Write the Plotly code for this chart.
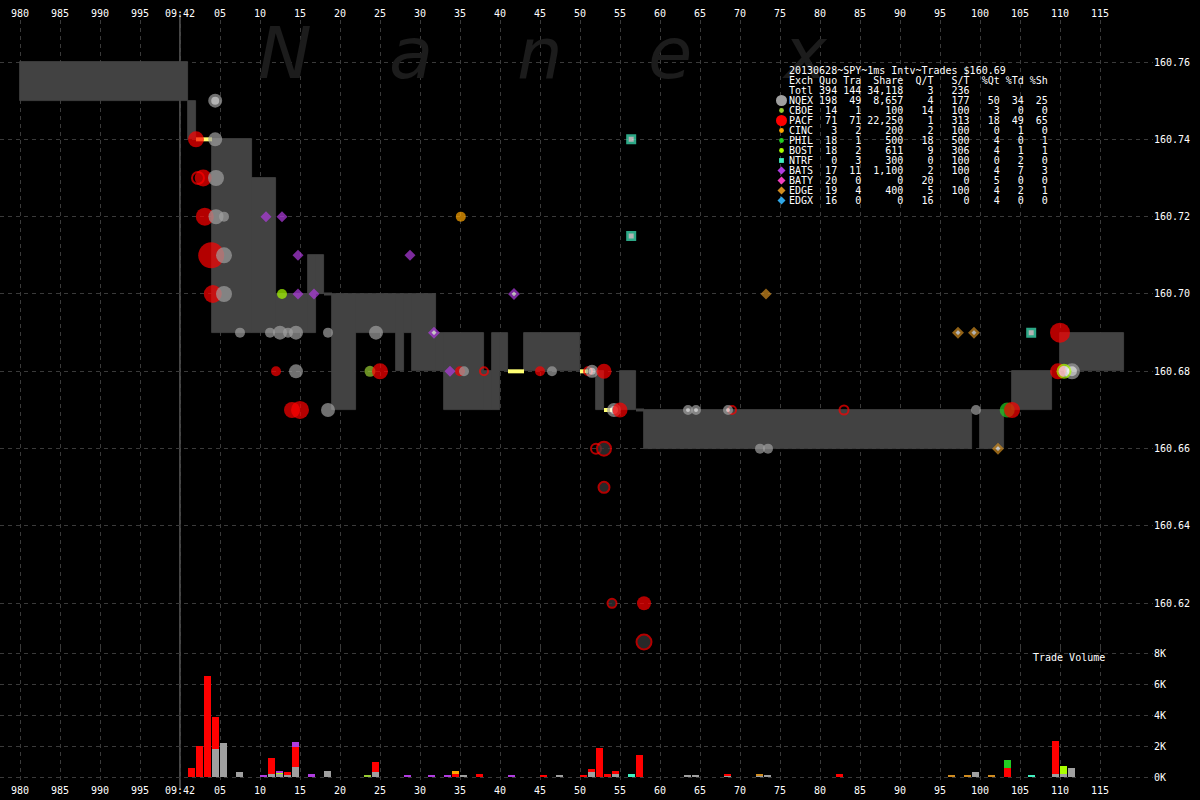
import math
import plotly.graph_objects as go

# ------------------------------------------------------------------ axis data
time_ticks = list(range(980, 1116, 5))
time_labels = ["980", "985", "990", "995", "09:42", "05", "10", "15", "20", "25",
               "30", "35", "40", "45", "50", "55", "60", "65", "70", "75", "80",
               "85", "90", "95", "100", "105", "110", "115"]
price_ticks = [160.62, 160.64, 160.66, 160.68, 160.70, 160.72, 160.74, 160.76]
price_labels = ["160.62", "160.64", "160.66", "160.68", "160.70", "160.72", "160.74", "160.76"]
vol_ticks = [0, 2000, 4000, 6000, 8000]
vol_labels = ["0K", "2K", "4K", "6K", "8K"]
open_time = 1000

# ------------------------------------------------------------------ NBBO spread
spread_start = [980, 1001, 1004, 1009, 1012, 1016, 1017, 1019, 1022, 1027, 1028, 1029,
                1032, 1033, 1038, 1039, 1040, 1043, 1052, 1055, 1058, 1100, 1104, 1110]
spread_end = [1001, 1002, 1009, 1012, 1016, 1017, 1018, 1022, 1027, 1028, 1029, 1032,
              1033, 1038, 1039, 1040, 1041, 1050, 1053, 1057, 1099, 1103, 1109, 1118]
spread_bid = [160.75, 160.74, 160.69, 160.69, 160.69, 160.69, 160.70, 160.67, 160.69, 160.68,
              160.69, 160.68, 160.68, 160.67, 160.67, 160.67, 160.68, 160.68, 160.67, 160.67,
              160.66, 160.66, 160.67, 160.68]
spread_ask = [160.76, 160.75, 160.74, 160.73, 160.70, 160.71, 160.71, 160.70, 160.70, 160.70,
              160.70, 160.70, 160.69, 160.69, 160.68, 160.69, 160.69, 160.69, 160.68, 160.68,
              160.67, 160.67, 160.68, 160.69]
locked_start = [1002, 1041, 1050, 1053]
locked_end = [1004, 1043, 1051, 1054]
locked_price = [160.74, 160.68, 160.68, 160.67]
flat_start = [1018, 1057]
flat_end = [1019, 1058]
flat_price = [160.70, 160.67]

# ------------------------------------------------------------------ trades
nqex_t = [1004.4, 1004.5, 1004.5, 1005.5, 1005.5, 1005.5, 1007.5, 1011.25, 1012.5, 1013.5,
          1014.5, 1018.5, 1024.5, 1014.5, 1018.5, 1035.5, 1046.5, 1072.5, 1073.5, 1099.5]
nqex_p = [160.74, 160.73, 160.72, 160.72, 160.71, 160.70, 160.69, 160.69, 160.69, 160.69,
          160.69, 160.69, 160.69, 160.68, 160.67, 160.68, 160.68, 160.66, 160.66, 160.67]
nqex_sh = [540, 900, 710, 100, 900, 900, 100, 100, 540, 100,
           540, 100, 540, 540, 540, 100, 100, 100, 100, 100]
nqex_out_t = [1004.4, 1051.5, 1054.25, 1063.5, 1064.5, 1068.5, 1111.5]
nqex_out_p = [160.75, 160.68, 160.67, 160.67, 160.67, 160.67, 160.68]
nqex_out_sh = [540, 400, 540, 100, 100, 100, 900]

pacf_t = [1002, 1002.9, 1003.1, 1003.9, 1004.1, 1012, 1014, 1015, 1025, 1035, 1045,
          1053, 1055, 1058, 1104, 1109.75, 1110]
pacf_p = [160.74, 160.73, 160.72, 160.71, 160.70, 160.68, 160.67, 160.67, 160.68, 160.68,
          160.68, 160.68, 160.67, 160.62, 160.67, 160.68, 160.69]
pacf_sh = [900, 1100, 1340, 4000, 1340, 100, 900, 1340, 900, 100, 100,
           710, 710, 540, 900, 900, 1880]
pacf_low_t = [1053, 1053, 1054, 1058]
pacf_low_p = [160.66, 160.65, 160.62, 160.61]
pacf_low_sh = [900, 400, 180, 1100]
pacf_ring_t = [1002.25, 1038, 1051, 1052, 1069, 1083]
pacf_ring_p = [160.73, 160.68, 160.68, 160.66, 160.67, 160.67]
pacf_ring_sh = [540, 100, 100, 280, 100, 180]

bats_t = [1010.75, 1012.75, 1014.75, 1014.75, 1016.75, 1028.75, 1033.75]
bats_p = [160.72, 160.72, 160.71, 160.70, 160.70, 160.71, 160.68]
bats_out_t = [1031.75, 1041.75]
bats_out_p = [160.69, 160.70]
edge_t = [1073.25]
edge_p = [160.70]
edge_out_t = [1097.25, 1099.25, 1102.25]
edge_out_p = [160.69, 160.69, 160.66]
ntrf_t = [1056.4, 1056.4, 1106.4]
ntrf_p = [160.74, 160.715, 160.69]
cinc_t = [1035.1]
cinc_p = [160.72]
bost_t = [1012.75]
bost_p = [160.70]
bost_out_t = [1110.5]
bost_out_p = [160.68]
bost_out_sh = [710]
cboe_t = [1023.75]
cboe_p = [160.68]
cboe_sh = [180]
phil_t = [1103.4]
phil_p = [160.67]
phil_sh = [710]

# ------------------------------------------------------------------ trade volume (shares)
vol_nqex_t = [1004, 1005, 1007, 1011, 1012, 1013, 1014, 1018, 1024, 1035, 1047, 1051, 1054,
              1063, 1064, 1068, 1072, 1073, 1099, 1109, 1110, 1111]
vol_nqex = [1800, 2200, 300, 200, 200, 100, 650, 400, 300, 100, 100, 300, 200,
            100, 100, 100, 100, 100, 300, 200, 200, 600]
vol_pacf_t = [1001, 1002, 1003, 1004, 1011, 1013, 1014, 1024, 1034, 1037, 1045, 1050, 1051,
              1052, 1053, 1054, 1057, 1068, 1082, 1103, 1109]
vol_pacf = [600, 2000, 6500, 2100, 1000, 200, 1300, 700, 200, 200, 100, 100, 200,
            1900, 200, 200, 1400, 100, 200, 600, 2100]
vol_cboe_t = [1023]
vol_cboe = [100]
vol_bost_t = [1012, 1110]
vol_bost = [100, 500]
vol_phil_t = [1103]
vol_phil = [500]
vol_cinc_t = [1034]
vol_cinc = [200]
vol_bats_t = [1010, 1012, 1014, 1016, 1028, 1031, 1033, 1041]
vol_bats = [100, 100, 300, 200, 100, 100, 100, 100]
vol_edge_t = [1072, 1096, 1098, 1101]
vol_edge = [100, 100, 100, 100]
vol_ntrf_t = [1056, 1106]
vol_ntrf = [200, 100]

# ------------------------------------------------------------------ summary table
table_title = "20130628~SPY~1ms Intv~Trades $160.69"
table_exch = ["Totl", "NQEX", "CBOE", "PACF", "CINC", "PHIL", "BOST", "NTRF", "BATS", "BATY", "EDGE", "EDGX"]
table_quotes = [394, 198, 14, 71, 3, 18, 18, 0, 17, 20, 19, 16]
table_trades = [144, 49, 1, 71, 2, 1, 2, 3, 11, 0, 4, 0]
table_shares = [34118, 8657, 100, 22250, 200, 500, 611, 300, 1100, 0, 400, 0]
table_qt = [3, 4, 14, 1, 2, 18, 9, 0, 2, 20, 5, 16]
table_st = [236, 177, 100, 313, 100, 500, 306, 100, 100, 0, 100, 0]
table_pq = [None, 50, 3, 18, 0, 4, 4, 0, 4, 5, 4, 4]
table_pt = [None, 34, 0, 49, 1, 0, 1, 2, 7, 0, 2, 0]
table_ps = [None, 25, 0, 65, 0, 1, 1, 0, 3, 0, 1, 0]

# ------------------------------------------------------------------ styles
C = {
    "NQEX": "#a0a0a0", "CBOE": "#99cc33", "PACF": "#ff0000", "CINC": "#ffa500",
    "PHIL": "#22cc22", "BOST": "#aaff00", "NTRF": "#40f0c0", "BATS": "#b03ce0",
    "BATY": "#f040c0", "EDGE": "#d08c20", "EDGX": "#30a8e8",
}
BAND = "#424242"
LOCK = "#ffff73"
GRID = "#3a3a3a"
MONO = "DejaVu Sans Mono"

W_PLOT, TOP, BOT = 1153, 20, 783
SPLIT = (BOT - 648) / (BOT - TOP)


def px(x):
    return x / W_PLOT


def py(y):
    return (BOT - y) / (BOT - TOP)


def dot(sh):
    return 7 + 3 * math.sqrt(sh / 100)


fig = go.Figure()

# spread band
fig.add_trace(go.Bar(
    x=spread_start, y=[a - b for a, b in zip(spread_ask, spread_bid)], base=spread_bid,
    width=[e - s for s, e in zip(spread_start, spread_end)], offset=0,
    marker=dict(color=BAND, line=dict(width=0.8, color=BAND)), xaxis="x", yaxis="y", hoverinfo="skip"))


def seg_xy(starts, ends, prices):
    xs, ys = [], []
    for s, e, p in zip(starts, ends, prices):
        xs += [s, e, None]
        ys += [p, p, None]
    return xs, ys


lx, ly = seg_xy(flat_start, flat_end, flat_price)
fig.add_trace(go.Scatter(x=lx, y=ly, mode="lines", line=dict(color=BAND, width=3),
                         xaxis="x", yaxis="y", hoverinfo="skip"))
lx, ly = seg_xy(locked_start, locked_end, locked_price)
fig.add_trace(go.Scatter(x=lx, y=ly, mode="lines", line=dict(color=LOCK, width=4),
                         xaxis="x", yaxis="y", hoverinfo="skip"))


def pts(t, p, sizes, symbol, fill, line_color=None, lw=0):
    fig.add_trace(go.Scatter(
        x=t, y=p, mode="markers", cliponaxis=False, xaxis="x", yaxis="y", hoverinfo="skip",
        marker=dict(symbol=symbol, size=sizes, color=fill,
                    line=dict(color=line_color or fill, width=lw))))


pts(pacf_ring_t, pacf_ring_p, [dot(s) - 2 for s in pacf_ring_sh], "circle", "rgba(0,0,0,0)", C["PACF"], 2)
pts(pacf_low_t, pacf_low_p, [dot(s) - 2 for s in pacf_low_sh], "circle", "#3a3a3a", C["PACF"], 2)
pts(phil_t, phil_p, [dot(s) for s in phil_sh], "circle", C["PHIL"])
pts(cboe_t, cboe_p, [dot(s) for s in cboe_sh], "circle", C["CBOE"])
pts(bost_t, bost_p, [dot(100)] * len(bost_t), "circle", C["BOST"])
pts(nqex_out_t, nqex_out_p, [dot(s) - 3 for s in nqex_out_sh], "circle", "#ffffff", C["NQEX"], 3)
pts(pacf_t, pacf_p, [dot(s) for s in pacf_sh], "circle", C["PACF"])
pts(nqex_t, nqex_p, [dot(s) for s in nqex_sh], "circle", C["NQEX"])
pts(bost_out_t, bost_out_p, [dot(s) - 2 for s in bost_out_sh], "circle", "#ffffff", C["BOST"], 2)
pts(cinc_t, cinc_p, [dot(100)] * len(cinc_t), "circle", C["CINC"])
pts(bats_t, bats_p, [dot(100) * 0.85] * len(bats_t), "diamond", C["BATS"])
pts(bats_out_t, bats_out_p, [dot(100) * 0.85 - 2] * len(bats_out_t), "diamond", "#ffffff", C["BATS"], 2.5)
pts(edge_t, edge_p, [dot(100) * 0.85] * len(edge_t), "diamond", C["EDGE"])
pts(edge_out_t, edge_out_p, [dot(100) * 0.85 - 2] * len(edge_out_t), "diamond", "#ffffff", C["EDGE"], 2.5)
pts(ntrf_t, ntrf_p, [dot(100) - 2.5] * len(ntrf_t), "square", "#ffffff", C["NTRF"], 2.5)

# volume bars (stacked by exchange)
stack = {}
for name, ts, vs in [("NQEX", vol_nqex_t, vol_nqex), ("PACF", vol_pacf_t, vol_pacf),
                     ("CBOE", vol_cboe_t, vol_cboe), ("BOST", vol_bost_t, vol_bost),
                     ("PHIL", vol_phil_t, vol_phil), ("CINC", vol_cinc_t, vol_cinc),
                     ("BATS", vol_bats_t, vol_bats), ("EDGE", vol_edge_t, vol_edge),
                     ("NTRF", vol_ntrf_t, vol_ntrf)]:
    bases = []
    for t, v in zip(ts, vs):
        b = stack.get(t, 0)
        bases.append(b)
        stack[t] = b + v
    fig.add_trace(go.Bar(x=ts, y=vs, base=bases, width=0.9, offset=0,
                         marker=dict(color=C[name], line=dict(width=0)),
                         xaxis="x2", yaxis="y2", hoverinfo="skip"))

tickfont = dict(family=MONO, size=10, color="#ffffff")
xcommon = dict(range=[977.5, 977.5 + W_PLOT / 8], tickvals=time_ticks, ticktext=time_labels,
               showgrid=True, gridcolor=GRID, griddash="4px,4px", gridwidth=1,
               zeroline=False, showline=False, ticks="", tickfont=tickfont, fixedrange=True)
ycommon = dict(side="right", showgrid=True, gridcolor=GRID, griddash="4px,4px", gridwidth=1,
               zeroline=False, showline=False, ticks="", tickfont=tickfont, fixedrange=True)

p_per_px = 0.02 / 77.33
fig.update_layout(
    width=1200, height=800,
    margin=dict(l=0, r=1200 - W_PLOT, t=TOP, b=800 - BOT),
    paper_bgcolor="#000000", plot_bgcolor="#000000",
    barmode="overlay", bargap=0, showlegend=False,
    xaxis=dict(domain=[0, 1], anchor="y", side="top", **xcommon),
    xaxis2=dict(domain=[0, 1], anchor="y2", side="bottom", **xcommon),
    yaxis=dict(domain=[SPLIT, 1], anchor="x",
               range=[160.76 - (648 - 62) * p_per_px, 160.76 + (62 - TOP) * p_per_px],
               tickvals=price_ticks, ticktext=price_labels, **ycommon),
    yaxis2=dict(domain=[0, SPLIT], anchor="x2",
                range=[-(BOT - 777) / 15.5 * 1000, (777 - 648) / 15.5 * 1000],
                tickvals=vol_ticks, ticktext=vol_labels, **ycommon),
)

# 09:42 marker line
fig.add_shape(type="line", xref="x", yref="paper", x0=open_time, x1=open_time,
              y0=py(789), y1=py(14), line=dict(color="#8c8c8c", width=1), layer="below")

annotations = []
# watermark
for ch, cx in zip("Nanex", [285, 411, 540, 670, 805]):
    annotations.append(dict(text=ch, xref="paper", yref="paper", x=px(cx), y=py(53),
                            xanchor="center", yanchor="middle", showarrow=False,
                            font=dict(family="DejaVu Sans", size=72, color="#1c1c1c", style="italic")))

NB = "\u00a0"


def row_text(s):
    return s.replace(" ", NB)


lines = [table_title,
         f"{'Exch':<4}{'Quo':>4}{'Tra':>4}{'Share':>7}{'Q/T':>5}{'S/T':>6}{'%Qt':>5}{'%Td':>4}{'%Sh':>4}"]
for i, ex in enumerate(table_exch):
    s = f"{ex:<4}{table_quotes[i]:>4}{table_trades[i]:>4}{table_shares[i]:>7,}{table_qt[i]:>5}{table_st[i]:>6}"
    if table_pq[i] is not None:
        s += f"{table_pq[i]:>5}{table_pt[i]:>4}{table_ps[i]:>4}"
    lines.append(s)

for i, s in enumerate(lines):
    annotations.append(dict(text=row_text(s), xref="paper", yref="paper", x=px(787), y=py(70.5 + 10 * i),
                            xanchor="left", yanchor="middle", showarrow=False,
                            font=dict(family=MONO, size=10, color="#ffffff")))

annotations.append(dict(text=row_text("Trade Volume"), xref="paper", yref="paper", x=px(1031), y=py(657),
                        xanchor="left", yanchor="middle", showarrow=False,
                        font=dict(family=MONO, size=10, color="#ffffff")))
fig.update_layout(annotations=annotations)

# table legend glyphs
glyphs = [("NQEX", "circle", 5.5), ("CBOE", "circle", 2.4), ("PACF", "circle", 5.5),
          ("CINC", "circle", 2.4), ("PHIL", "circle", 2.4), ("BOST", "circle", 2.4),
          ("NTRF", "square", 2.4), ("BATS", "diamond", 4), ("BATY", "diamond", 4),
          ("EDGE", "diamond", 4), ("EDGX", "diamond", 4)]
for k, (ex, kind, r) in enumerate(glyphs):
    yc = py(70.5 + 10 * (k + 3))
    base = dict(xref="paper", yref="paper", xsizemode="pixel", ysizemode="pixel",
                xanchor=px(781.5), yanchor=yc, fillcolor=C[ex], line=dict(width=0), layer="above")
    if kind == "circle":
        fig.add_shape(type="circle", x0=-r, x1=r, y0=-r, y1=r, **base)
    elif kind == "square":
        fig.add_shape(type="rect", x0=-r, x1=r, y0=-r, y1=r, **base)
    else:
        fig.add_shape(type="path", path=f"M {-r},0 L 0,{r} L {r},0 L 0,{-r} Z", **base)

fig.write_html(
    "out.html",
    config={"displayModeBar": False},
    post_script="document.body.style.margin='0';document.body.style.background='#000';",
)
